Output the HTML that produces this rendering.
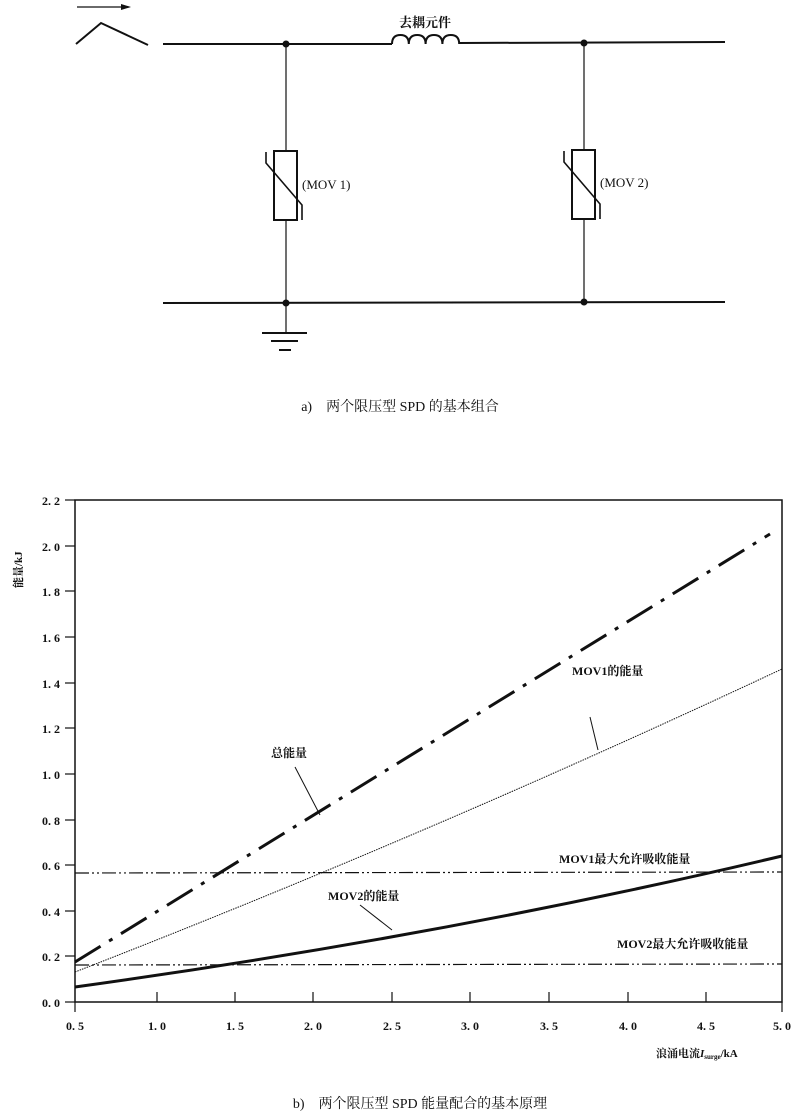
<!DOCTYPE html>
<html><head><meta charset="utf-8"><style>
html,body{margin:0;padding:0;background:#fff;}
svg{display:block;}
text{font-family:"Liberation Serif","Noto Serif CJK SC","Noto Sans CJK SC",serif;fill:#111;}
.b{font-weight:bold;}
</style></head><body>
<svg width="800" height="1115" viewBox="0 0 800 1115" xmlns="http://www.w3.org/2000/svg">
<g stroke="#111" fill="none">
<line x1="77" y1="7" x2="127" y2="7" stroke-width="1.2"/>
<polygon points="131,7 121,4 121,10" fill="#111" stroke="none"/>
<polyline points="76,44 101,23 148,45" stroke-width="2"/>
<line x1="163" y1="44" x2="392" y2="44" stroke-width="2"/>
<path d="M392 44 q0 -9 8.4 -9 q8.4 0 8.4 9 q0 -9 8.4 -9 q8.4 0 8.4 9 q0 -9 8.4 -9 q8.4 0 8.4 9 q0 -9 8.4 -9 q8.4 0 8.4 9" stroke-width="2"/>
<line x1="459" y1="43" x2="725" y2="42" stroke-width="2"/>
<line x1="163" y1="303" x2="725" y2="302" stroke-width="2"/>
<line x1="286" y1="44" x2="286" y2="151" stroke-width="1.2"/>
<line x1="286" y1="220" x2="286" y2="303" stroke-width="1.2"/>
<rect x="274" y="151" width="23" height="69" stroke-width="2"/>
<polyline points="266,152 266,163 302,205 302,220" stroke-width="1.6"/>
<line x1="584" y1="43" x2="584" y2="150" stroke-width="1.2"/>
<line x1="584" y1="219" x2="584" y2="302" stroke-width="1.2"/>
<rect x="572" y="150" width="23" height="69" stroke-width="2"/>
<polyline points="564,151 564,162 600,204 600,219" stroke-width="1.6"/>
<line x1="286" y1="303" x2="286" y2="333" stroke-width="1.2"/>
<line x1="262" y1="333" x2="307" y2="333" stroke-width="2"/>
<line x1="271" y1="341" x2="298" y2="341" stroke-width="2"/>
<line x1="279" y1="350" x2="291" y2="350" stroke-width="2"/>
</g>
<g fill="#111">
<circle cx="286" cy="44" r="3.5"/><circle cx="584" cy="43" r="3.5"/>
<circle cx="286" cy="303" r="3.5"/><circle cx="584" cy="302" r="3.5"/>
</g>
<text x="425" y="27" font-size="13" text-anchor="middle" class="b">去耦元件</text>
<text x="302" y="189" font-size="13">(MOV 1)</text>
<text x="600" y="187" font-size="13">(MOV 2)</text>
<text x="400" y="411" font-size="14" text-anchor="middle">a)　两个限压型 SPD 的基本组合</text>

<g stroke="#111" fill="none">
<rect x="75" y="500" width="707" height="502" stroke-width="1.5"/>
<g stroke-width="1.2">
<line x1="65" y1="500" x2="75" y2="500"/><line x1="65" y1="546" x2="75" y2="546"/>
<line x1="65" y1="591" x2="75" y2="591"/><line x1="65" y1="637" x2="75" y2="637"/>
<line x1="65" y1="683" x2="75" y2="683"/><line x1="65" y1="728" x2="75" y2="728"/>
<line x1="65" y1="774" x2="75" y2="774"/><line x1="65" y1="820" x2="75" y2="820"/>
<line x1="65" y1="865" x2="75" y2="865"/><line x1="65" y1="911" x2="75" y2="911"/>
<line x1="65" y1="956" x2="75" y2="956"/><line x1="65" y1="1002" x2="75" y2="1002"/>
<line x1="157" y1="992" x2="157" y2="1002"/><line x1="235" y1="992" x2="235" y2="1002"/>
<line x1="313" y1="992" x2="313" y2="1002"/><line x1="392" y1="992" x2="392" y2="1002"/>
<line x1="470" y1="992" x2="470" y2="1002"/><line x1="549" y1="992" x2="549" y2="1002"/>
<line x1="628" y1="992" x2="628" y2="1002"/><line x1="706" y1="992" x2="706" y2="1002"/>
<line x1="75" y1="1002" x2="75" y2="1012"/><line x1="782" y1="1002" x2="782" y2="1012"/>
</g>
<line x1="75" y1="873" x2="782" y2="872" stroke-width="1.2" stroke-dasharray="14,3,2,3,2,3"/>
<line x1="75" y1="965" x2="782" y2="964" stroke-width="1.2" stroke-dasharray="14,3,2,3,2,3"/>
<line x1="75" y1="962" x2="770" y2="534" stroke-width="3" stroke-dasharray="30,10,4,10"/>
<path d="M75 972 Q428 835 782 669" stroke-width="1" stroke-dasharray="1.5,1"/>
<path d="M75 987 Q450 935 782 856" stroke-width="3"/>
<line x1="295" y1="767" x2="320" y2="815" stroke-width="1"/>
<line x1="590" y1="717" x2="598" y2="750" stroke-width="1"/>
<line x1="360" y1="905" x2="392" y2="930" stroke-width="1"/>
</g>
<g font-size="12" class="b" text-anchor="end">
<text x="60" y="505">2. 2</text><text x="60" y="551">2. 0</text><text x="60" y="596">1. 8</text>
<text x="60" y="642">1. 6</text><text x="60" y="688">1. 4</text><text x="60" y="733">1. 2</text>
<text x="60" y="779">1. 0</text><text x="60" y="825">0. 8</text><text x="60" y="870">0. 6</text>
<text x="60" y="916">0. 4</text><text x="60" y="961">0. 2</text><text x="60" y="1007">0. 0</text>
</g>
<g font-size="12" class="b" text-anchor="middle">
<text x="75" y="1030">0. 5</text><text x="157" y="1030">1. 0</text><text x="235" y="1030">1. 5</text>
<text x="313" y="1030">2. 0</text><text x="392" y="1030">2. 5</text><text x="470" y="1030">3. 0</text>
<text x="549" y="1030">3. 5</text><text x="628" y="1030">4. 0</text><text x="706" y="1030">4. 5</text>
<text x="782" y="1030">5. 0</text>
</g>
<text transform="translate(22,588) rotate(-90)" font-size="11" class="b">能量/kJ</text>
<text x="271" y="757" font-size="12" class="b">总能量</text>
<text x="572" y="675" font-size="12" class="b">MOV1的能量</text>
<text x="559" y="863" font-size="12" class="b">MOV1最大允许吸收能量</text>
<text x="328" y="900" font-size="12" class="b">MOV2的能量</text>
<text x="617" y="948" font-size="12" class="b">MOV2最大允许吸收能量</text>
<text x="656" y="1057" font-size="11" class="b">浪涌电流<tspan font-style="italic">I</tspan><tspan font-size="7" dy="2">surge</tspan><tspan dy="-2">/kA</tspan></text>
<text x="420" y="1108" font-size="14" text-anchor="middle">b)　两个限压型 SPD 能量配合的基本原理</text>
</svg>
</body></html>
